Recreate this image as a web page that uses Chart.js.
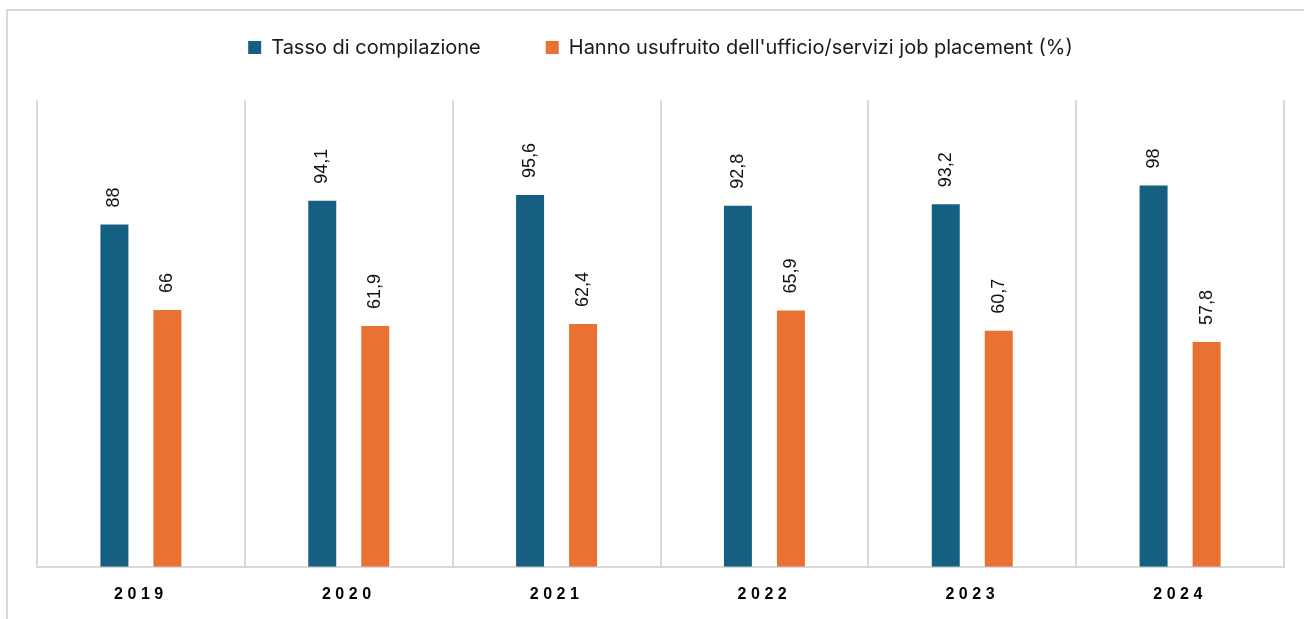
<!DOCTYPE html>
<html lang="it">
<head>
<meta charset="utf-8">
<title>Tasso di compilazione e job placement</title>
<script src="https://cdn.jsdelivr.net/npm/chart.js@4.4.1/dist/chart.umd.min.js"></script>
<style>
  html, body { margin: 0; padding: 0; background: #fff; overflow: hidden; }
  #wrap { position: relative; width: 1304px; height: 619px; }
  #frame {
    position: absolute; left: 6px; top: 9px; width: 1320px; height: 640px;
    border: 2px solid #d9d9d9; box-sizing: border-box;
  }
  #myChart { position: absolute; left: 0; top: 0; }
</style>
</head>
<body>
<div id="wrap">
  <div id="frame"></div>
  <canvas id="myChart" width="1304" height="619"></canvas>
</div>
<script>
// dati del grafico
const anni = ['2019', '2020', '2021', '2022', '2023', '2024'];
const tassoCompilazione = [88, 94.1, 95.6, 92.8, 93.2, 98];
const jobPlacement = [66, 61.9, 62.4, 65.9, 60.7, 57.8];
const nomiSerie = ['Tasso di compilazione', "Hanno usufruito dell'ufficio/servizi job placement (%)"];

const BLU = '#156082';
const ARANCIO = '#E97132';
const GRIGIO = '#d9d9d9';

const fmt = new Intl.NumberFormat('it-IT', { maximumFractionDigits: 1 });

// etichette ruotate sopra le barre + spaziatura lettere per gli anni
const etichette = {
    id: 'etichette',
    afterDatasetsDraw(chart) {
        const ctx = chart.ctx;
        ctx.save();
        ctx.font = '18px "Liberation Sans", Arial, sans-serif';
        ctx.fillStyle = '#111';
        ctx.textAlign = 'left';
        ctx.textBaseline = 'middle';
        chart.data.datasets.forEach((ds, i) => {
            chart.getDatasetMeta(i).data.forEach((bar, j) => {
                ctx.save();
                ctx.translate(bar.x, bar.y - 17);
                ctx.rotate(-Math.PI / 2);
                ctx.fillText(fmt.format(ds.data[j]), 0, 0);
                ctx.restore();
            });
        });
        ctx.restore();
        ctx.letterSpacing = '4.5px';
    },
    afterDraw(chart) {
        chart.ctx.letterSpacing = '0px';
    }
};

new Chart(document.getElementById('myChart'), {
    type: 'bar',
    data: {
        labels: anni,
        datasets: [{
            label: nomiSerie[0],
            data: tassoCompilazione,
            backgroundColor: BLU,
            categoryPercentage: 0.51,
            barPercentage: 0.528
        }, {
            label: nomiSerie[1],
            data: jobPlacement,
            backgroundColor: ARANCIO,
            categoryPercentage: 0.51,
            barPercentage: 0.528
        }]
    },
    options: {
        responsive: false,
        animation: false,
        layout: {
            padding: { top: -27.5, left: 37, right: 20, bottom: -3 }
        },
        plugins: {
            legend: {
                position: 'top',
                labels: {
                    boxWidth: 13,
                    boxHeight: 13,
                    padding: 65,
                    color: '#1a1a1a',
                    font: { family: 'Inter, "Noto Sans", sans-serif', size: 20 }
                }
            },
            title: {
                display: true,
                text: '',
                weight: 500,
                font: { size: 1 },
                padding: { top: 31.3, bottom: 0 }
            },
            tooltip: { enabled: false }
        },
        scales: {
            x: {
                grid: {
                    display: true,
                    color: GRIGIO,
                    lineWidth: 2,
                    drawTicks: false
                },
                border: { display: true, color: GRIGIO, width: 2 },
                ticks: {
                    z: 1,
                    padding: 18,
                    color: '#000',
                    font: { family: '"Liberation Sans", Arial, sans-serif', size: 16, weight: 'bold' }
                }
            },
            y: {
                display: false,
                beginAtZero: true,
                min: 0,
                max: 120
            }
        }
    },
    plugins: [etichette]
});
</script>
</body>
</html>
